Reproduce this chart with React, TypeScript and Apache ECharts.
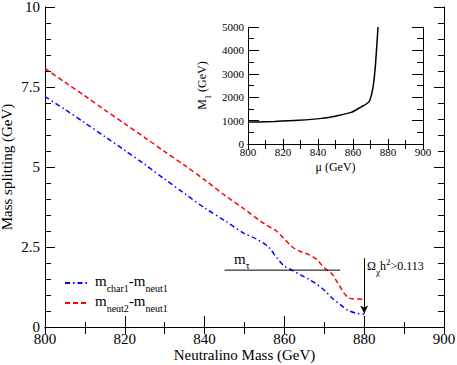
import React, { useEffect, useRef } from 'react';
import * as echarts from 'echarts';

// Main panel: mass splitting vs neutralino mass (GeV)
const charMinusNeut: [number, number][] = [
  [800, 7.2], [805, 6.8], [810, 6.38], [815, 5.95], [820, 5.52], [825, 5.08], [830, 4.62],
  [835, 4.17], [840, 3.72], [845, 3.33], [850, 2.92], [853, 2.75], [856, 2.5], [858, 2.18],
  [860, 1.9], [862, 1.77], [864, 1.63], [866, 1.5], [868, 1.35], [870, 1.15], [872, 0.9],
  [874, 0.7], [876, 0.52], [878, 0.43], [880, 0.4],
];
const neut2MinusNeut: [number, number][] = [
  [800, 8.08], [805, 7.65], [810, 7.22], [815, 6.78], [820, 6.35], [825, 5.92], [830, 5.48],
  [835, 5.05], [840, 4.6], [845, 4.12], [850, 3.68], [855, 3.22], [858, 3.0], [860, 2.75],
  [862, 2.5], [864, 2.36], [866, 2.27], [868, 2.12], [870, 1.85], [872, 1.65], [873, 1.45],
  [874, 1.25], [875, 1.05], [876, 0.92], [877, 0.88], [880, 0.87],
];
const tauMassLine: [number, number][] = [[845, 1.777], [874, 1.777]];
const relicArrow: [number, number][] = [[880, 2.15], [880, 0.42]];

// Inset: M1 vs mu (GeV)
const insetCurve: [number, number][] = [
  [800, 940], [806, 945], [815, 960], [829, 1010], [842, 1095], [851, 1210], [859, 1350],
  [865, 1600], [867.6, 1710], [869.5, 1850], [871.4, 2400], [872.8, 3350], [874.3, 5000],
];

const mainXTicks = { min: 800, max: 900, interval: 20 };
const mainYTicks = { min: 0, max: 10, interval: 2.5 };
const insetXTicks = { min: 800, max: 900, interval: 20 };
const insetYTicks = { min: 0, max: 5000, interval: 1000 };

const FONT = "'Liberation Serif', 'Times New Roman', serif";

export default function App() {
  const ref = useRef<HTMLDivElement>(null);
  useEffect(() => {
    if (!ref.current) return;
    const chart = echarts.init(ref.current, null, { renderer: 'svg' });
    const axisLine = { show: true, lineStyle: { color: '#000', width: 1 } };
    const mkX = (grid: number, pos: 'top' | 'bottom', t: any, labels: boolean, fs: number, tickLen: number, minorLen: number, name?: string, gap?: number) => ({
      type: 'value', gridIndex: grid, position: pos, min: t.min, max: t.max, interval: t.interval,
      axisLine, splitLine: { show: false },
      axisTick: { show: true, inside: true, length: tickLen, lineStyle: { color: '#000' } },
      minorTick: { show: true, splitNumber: 2, length: minorLen, lineStyle: { color: '#000' } },
      axisLabel: { show: labels, color: '#000', fontFamily: FONT, fontSize: fs, margin: 4, formatter: (v: number) => String(v) },
      name: name || '', nameLocation: 'middle', nameGap: gap || 0, nameMoveOverlap: false,
      nameTextStyle: { color: '#000', fontFamily: FONT, fontSize: 15 },
    });
    const mkY = (grid: number, pos: 'left' | 'right', t: any, labels: boolean, fs: number, tickLen: number, minorLen: number, minorSplit: number) => ({
      type: 'value', gridIndex: grid, position: pos, min: t.min, max: t.max, interval: t.interval,
      axisLine, splitLine: { show: false }, nameMoveOverlap: false,
      axisTick: { show: true, inside: true, length: tickLen, lineStyle: { color: '#000' } },
      minorTick: { show: true, splitNumber: minorSplit, length: minorLen, lineStyle: { color: '#000' } },
      axisLabel: { show: labels, color: '#000', fontFamily: FONT, fontSize: fs, margin: 5, formatter: (v: number) => String(v) },
    });

    const xMainBottom: any = mkX(0, 'bottom', mainXTicks, true, 15, 11, 5, 'Neutralino Mass (GeV)', 20);
    const xMainTop: any = mkX(0, 'top', mainXTicks, false, 15, 7, 7);
    const xInsetBottom: any = mkX(1, 'bottom', insetXTicks, true, 11, 5, 4, 'μ (GeV)', 17);
    xInsetBottom.nameTextStyle = { color: '#000', fontFamily: FONT, fontSize: 12 };
    xInsetBottom.axisLabel.margin = 2;
    const xInsetTop: any = mkX(1, 'top', insetXTicks, false, 11, 6, 5);

    const yMainLeft: any = mkY(0, 'left', mainYTicks, true, 15, 10, 6, 5);
    yMainLeft.name = 'Mass splitting (GeV)';
    yMainLeft.nameLocation = 'middle';
    yMainLeft.nameGap = 31;
    yMainLeft.nameTextStyle = { color: '#000', fontFamily: FONT, fontSize: 15 };
    const yMainRight: any = mkY(0, 'right', mainYTicks, false, 15, 10, 6, 5);
    const yInsetLeft: any = mkY(1, 'left', insetYTicks, true, 11, 11, 6, 2);
    yInsetLeft.axisLabel.margin = 4;
    yInsetLeft.name = '{a|M}{s|1}{a| (GeV)}';
    yInsetLeft.nameLocation = 'middle';
    yInsetLeft.nameGap = 36;
    yInsetLeft.nameTextStyle = {
      color: '#000', fontFamily: FONT, fontSize: 12,
      rich: {
        a: { fontFamily: FONT, fontSize: 12, color: '#000', padding: [0, 0, 4, 0], verticalAlign: 'bottom' },
        s: { fontFamily: FONT, fontSize: 8, color: '#000', verticalAlign: 'bottom' },
      },
    };
    const yInsetRight: any = mkY(1, 'right', insetYTicks, false, 11, 11, 6, 2);

    const legendRich = {
      m: { fontFamily: FONT, fontSize: 15, color: '#000', padding: [0, 0, 5, 0], verticalAlign: 'bottom' },
      s: { fontFamily: FONT, fontSize: 10, color: '#000', verticalAlign: 'bottom' },
    };

    chart.setOption({
      animation: false,
      backgroundColor: '#fff',
      textStyle: { fontFamily: FONT },
      grid: [
        { left: 45, top: 7, width: 399, height: 320, outerBoundsMode: 'none', containLabel: false },
        { left: 248, top: 27, width: 175, height: 117, outerBoundsMode: 'none', containLabel: false },
      ],
      xAxis: [xMainBottom, xMainTop, xInsetBottom, xInsetTop],
      yAxis: [yMainLeft, yMainRight, yInsetLeft, yInsetRight],
      legend: {
        left: 59, top: 268, orient: 'vertical', itemWidth: 22, itemHeight: 12, itemGap: 0,
        selectedMode: false,
        itemStyle: { opacity: 0 },
        data: ['char', 'neut2'],
        formatter: (n: string) => n === 'char'
          ? '{m|m}{s|char1}{m|-m}{s|neut1}'
          : '{m|m}{s|neut2}{m|-m}{s|neut1}',
        textStyle: { rich: legendRich, padding: [0, 0, 0, 3] },
      },
      series: [
        {
          name: 'char', type: 'line', xAxisIndex: 0, yAxisIndex: 0, data: charMinusNeut,
          symbol: 'none', smooth: 0.3,
          lineStyle: { color: '#0000ff', width: 1.5, type: [5, 3, 1.5, 3] }, itemStyle: { color: '#0000ff' },
        },
        {
          name: 'neut2', type: 'line', xAxisIndex: 0, yAxisIndex: 0, data: neut2MinusNeut,
          symbol: 'none', smooth: 0.3,
          lineStyle: { color: '#ff0000', width: 1.5, type: [5, 3] }, itemStyle: { color: '#ff0000' },
        },
        {
          name: 'tau', type: 'line', xAxisIndex: 0, yAxisIndex: 0, data: tauMassLine,
          symbol: 'none', lineStyle: { color: '#000', width: 1 },
        },
        {
          name: 'relic', type: 'line', xAxisIndex: 0, yAxisIndex: 0, data: [],
          symbol: 'none',
          markLine: {
            silent: true, symbol: ['none', 'arrow'], symbolSize: [6, 8],
            label: { show: false },
            lineStyle: { color: '#000', width: 1, type: 'solid' },
            data: [[{ coord: relicArrow[0] }, { coord: relicArrow[1] }]],
          },
        },
        {
          name: 'inset', type: 'line', xAxisIndex: 2, yAxisIndex: 2, data: insetCurve,
          symbol: 'none', smooth: 0.2, clip: true,
          lineStyle: { color: '#000', width: 1.5 },
        },
      ],
      graphic: [
        {
          type: 'text', left: 234, top: 251,
          style: {
            text: '{a|m}{s|τ}',
            rich: {
              a: { fontFamily: FONT, fontSize: 15, fill: '#000', padding: [0, 0, 4, 0], verticalAlign: 'bottom' },
              s: { fontFamily: FONT, fontSize: 10, fill: '#000', verticalAlign: 'bottom' },
            },
          },
        },
        {
          type: 'text', left: 367, top: 257,
          style: {
            text: '{a|Ω}{s|χ}{a|h}{p|2}{a|>0.113}',
            rich: {
              a: { fontFamily: FONT, fontSize: 12, fill: '#000', padding: [0, 0, 4, 0], verticalAlign: 'bottom' },
              s: { fontFamily: FONT, fontSize: 9, fill: '#000', verticalAlign: 'bottom' },
              p: { fontFamily: FONT, fontSize: 9, fill: '#000', padding: [0, 0, 10, 0], verticalAlign: 'bottom' },
            },
          },
        },
      ],
    });
    return () => chart.dispose();
  }, []);
  return <div ref={ref} style={{ width: 457, height: 365, position: 'absolute', left: 0, top: 0 }} />;
}
